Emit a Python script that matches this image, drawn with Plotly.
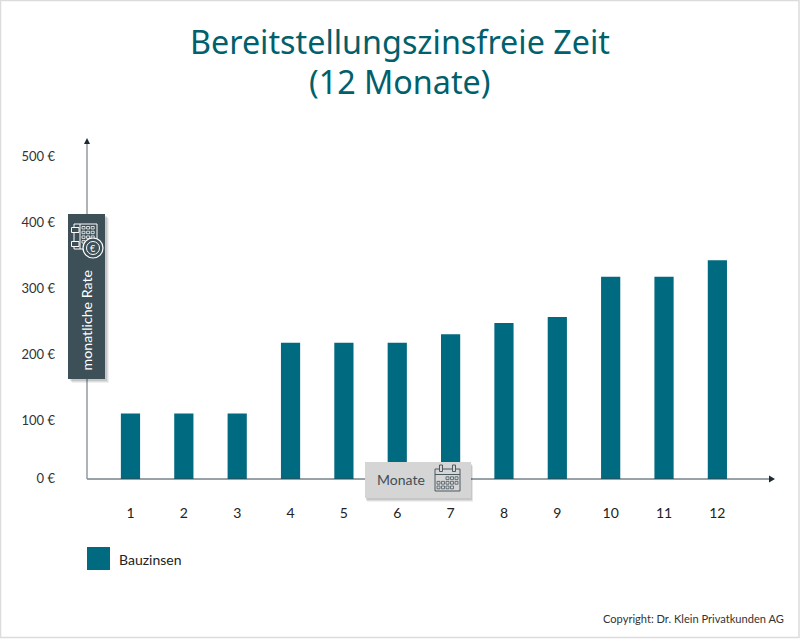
import plotly.graph_objects as go

months = [str(i) for i in range(1, 13)]
bauzinsen = [110, 110, 110, 217, 217, 217, 230, 247, 256, 317, 317, 342]
y_ticks = [12, 100, 200, 300, 400, 500]
y_labels = ["0 €", "100 €", "200 €", "300 €", "400 €", "500 €"]
title_lines = ["Bereitstellungszinsfreie Zeit", "(12 Monate)"]
series_name = "Bauzinsen"

W, H = 800, 639
ML, MR, MT, MB = 87, 25, 138, 160
TEAL = "#006a80"
TITLE = "#00606c"
FONT = "Lato"
PX = lambda x: (x - ML) / (W - ML - MR)
PY = lambda y: (H - MB - y) / (H - MT - MB)

shapes, notes = [], []

def rect(x0, y0, x1, y1, fill="rgba(0,0,0,0)", line=None, w=0, layer="above"):
    shapes.append(dict(type="rect", xref="paper", yref="paper", x0=PX(x0), x1=PX(x1), y0=PY(y0), y1=PY(y1),
                       fillcolor=fill, line=dict(color=line or "rgba(0,0,0,0)", width=w), layer=layer))

def seg(x0, y0, x1, y1, color, w=1):
    shapes.append(dict(type="line", xref="paper", yref="paper", x0=PX(x0), x1=PX(x1), y0=PY(y0), y1=PY(y1),
                       line=dict(color=color, width=w), layer="above"))

def circ(cx, cy, r, fill, line, w=1):
    shapes.append(dict(type="circle", xref="paper", yref="paper", x0=PX(cx - r), x1=PX(cx + r), y0=PY(cy - r), y1=PY(cy + r),
                       fillcolor=fill, line=dict(color=line, width=w), layer="above"))

def text(x, y, s, size, color, anchor="left", angle=0, family=FONT):
    notes.append(dict(xref="paper", yref="paper", x=PX(x), y=PY(y), text=s, showarrow=False, xanchor=anchor,
                      yanchor="middle", textangle=angle, font=dict(family=family, size=size, color=color)))

# outer frame
rect(0.5, 0.5, 799, 637.5, line="#dcdcdc", w=1.5, layer="below")

# arrows (axes)
seg(87, 479, 771, 479, "#33454d", 1)
seg(87, 142, 87, 479, "#8a9397", 1.4)
shapes.append(dict(type="path", xref="paper", yref="paper",
                   path=f"M {PX(769)} {PY(475.5)} L {PX(775)} {PY(479)} L {PX(769)} {PY(482.5)} Z",
                   fillcolor="#1c2b30", line=dict(width=0), layer="above"))
shapes.append(dict(type="path", xref="paper", yref="paper",
                   path=f"M {PX(84)} {PY(144)} L {PX(87)} {PY(138)} L {PX(90)} {PY(144)} Z",
                   fillcolor="#1c2b30", line=dict(width=0), layer="above"))

# rate box
for d, a in ((4, .06), (3, .08), (2, .10)):
    rect(68 + d, 214 + d, 105 + d, 379 + d, fill=f"rgba(0,0,0,{a})")
rect(68, 214, 105, 379, fill="#3d4f57")
text(86, 320.5, "monatliche Rate", 14.2, "#ffffff", "center", -90)
rect(74, 224, 97, 249, line="#ffffff", w=1)
seg(80, 224, 80, 249, "#ffffff", 1)
for cy in (230, 244):
    rect(71.5, cy - 2.5, 79, cy + 2.5, fill="#3d4f57", line="#ffffff", w=1)
for i in range(3):
    for j in range(4):
        rect(82 + i * 4.6, 226.5 + j * 4.7, 85 + i * 4.6, 229 + j * 4.7, line="#ffffff", w=0.8)
circ(93, 248, 10, "#3d4f57", "#ffffff", 1.2)
circ(93, 248, 6.5, "#3d4f57", "#ffffff", 1)
text(93, 248, "€", 9, "#ffffff", "center")

# months box
for d, a in ((4, .06), (3, .08), (2, .10)):
    rect(365 + d * .5, 462 + d, 471 + d * .5, 498 + d, fill=f"rgba(0,0,0,{a})")
rect(365, 462, 471, 498, fill="#d5d5d5")
text(400.5, 479, "Monate", 14, "#3d4f57", "center")
ICON = "#4b5b62"
rect(435, 469, 460, 491, line=ICON, w=1)
seg(435, 474.5, 460, 474.5, ICON, 1)
for x0 in (439.5, 452.5):
    rect(x0, 465, x0 + 3, 471.5, fill="#d5d5d5", line=ICON, w=1)
for j in range(3):
    for i in range(5):
        if (j == 0 and i < 2) or (j == 2 and i == 4):
            continue
        rect(437 + i * 4.5, 476.8 + j * 4.6, 440 + i * 4.5, 479.6 + j * 4.6, line=ICON, w=0.8)

# legend
rect(87, 547, 110, 570, fill=TEAL)
text(116.5, 559.5, series_name, 14, "#222222")

# copyright
text(786, 618.5, "Copyright: Dr. Klein Privatkunden AG", 11.1, "#333333", "right")

# title
text(400, 41, title_lines[0], 32.3, TITLE, "center", family="Noto Sans")
text(400, 81, title_lines[1], 32.3, TITLE, "center", family="Noto Sans")

fig = go.Figure(go.Bar(x=months, y=bauzinsen, name=series_name, marker=dict(color=TEAL, line=dict(width=0)),
                       width=0.36, showlegend=False, hoverinfo="x+y"))
fig.update_layout(
    width=W, height=H, margin=dict(l=ML, r=MR, t=MT, b=MB, pad=0), autosize=False,
    paper_bgcolor="#ffffff", plot_bgcolor="#ffffff", showlegend=False, shapes=shapes, annotations=notes,
    font=dict(family=FONT, size=14, color="#222222"),
)
fig.update_xaxes(type="category", range=[-0.815, 12.08], showgrid=False, zeroline=False, showline=False,
                 ticks="", tickangle=0, ticklabelstandoff=24, tickfont=dict(size=14, color="#222222"))
fig.update_yaxes(range=[10.6, 527.3], tickvals=y_ticks, ticktext=y_labels, showgrid=False, zeroline=False,
                 showline=False, ticks="", ticklabelstandoff=31, tickfont=dict(size=13, color="#333333"))
fig.write_html("out.html", config=dict(displayModeBar=False), post_script="document.body.style.margin='0';")
